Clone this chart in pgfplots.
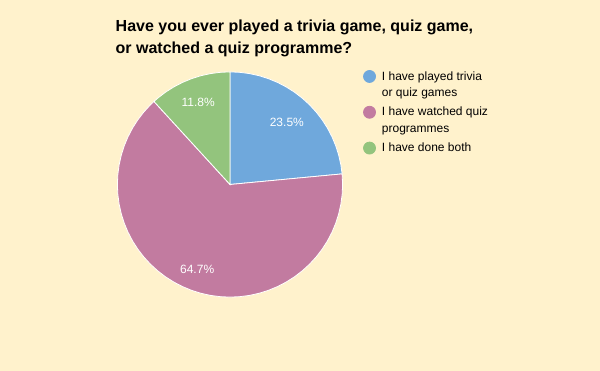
\documentclass[border=0pt]{standalone}
\usepackage{pgfplots}
\pgfplotsset{compat=1.18}
\usepgfplotslibrary{polar}
\usepackage{fontspec}
\setmainfont{Liberation Sans}
\definecolor{bgcol}{HTML}{FFF2CC}
\definecolor{sblue}{HTML}{6FA8DC}
\definecolor{spurple}{HTML}{C27BA0}
\definecolor{sgreen}{HTML}{93C47D}
\begin{document}
\begin{tikzpicture}[x=1pt,y=1pt]
\fill[bgcol] (0,0) rectangle (600,371);
\node[anchor=base west, align=left, font=\bfseries\fontsize{16}{21.5}\selectfont, inner sep=0pt] at (115.5,317.8)
  {Have you ever played a trivia game, quiz game,\\or watched a quiz programme?};
\begin{polaraxis}[
  at={(230pt,186.5pt)}, anchor=center,
  width=225.2pt, height=225.2pt, scale only axis,
  hide axis, ymin=0, ymax=1, clip=false,
  legend cell align=left,
  legend style={at={(axis description cs:1.077,1.021)}, anchor=north west,
    draw=none, fill=none, font=\fontsize{12}{16.6}\selectfont,
    cells={align=left}, row sep=5pt},
]
\addplot[fill=sblue, draw=white, line width=0.8pt,
  legend image code/.code={\fill[sblue] (0pt,8.3pt) circle (6pt); \path (10pt,-14.3pt) (10pt,14.3pt);}] coordinates {
 (0,0) (90,1) (85,1) (80,1) (75,1) (70,1) (65,1) (60,1) (55,1) (50,1) (45,1)
 (40,1) (35,1) (30,1) (25,1) (20,1) (15,1) (10,1) (5.4,1)
} -- cycle;
\addlegendentry{I have played trivia\\or quiz games}
\addplot[fill=spurple, draw=white, line width=0.8pt,
  legend image code/.code={\fill[spurple] (0pt,8.3pt) circle (6pt); \path (10pt,-14.3pt) (10pt,14.3pt);}] coordinates {
 (0,0) (5.4,1) (0,1) (-5,1) (-10,1) (-15,1) (-20,1) (-25,1) (-30,1) (-35,1)
 (-40,1) (-45,1) (-50,1) (-55,1) (-60,1) (-65,1) (-70,1) (-75,1) (-80,1)
 (-85,1) (-90,1) (-95,1) (-100,1) (-105,1) (-110,1) (-115,1) (-120,1)
 (-125,1) (-130,1) (-135,1) (-140,1) (-145,1) (-150,1) (-155,1) (-160,1)
 (-165,1) (-170,1) (-175,1) (-180,1) (-185,1) (-190,1) (-195,1) (-200,1)
 (-205,1) (-210,1) (-215,1) (-220,1) (-225,1) (-227.52,1)
} -- cycle;
\addlegendentry{I have watched quiz\\programmes}
\addplot[fill=sgreen, draw=white, line width=0.8pt,
  legend image code/.code={\fill[sgreen] (0pt,0pt) circle (6pt); \path (10pt,0pt);}] coordinates {
 (0,0) (-227.52,1) (-230,1) (-235,1) (-240,1) (-245,1) (-250,1) (-255,1)
 (-260,1) (-265,1) (-270,1)
} -- cycle;
\addlegendentry{I have done both}
\node[white, font=\fontsize{12}{14}\selectfont] at (axis cs:47.7,0.75) {23.5\%};
\node[white, font=\fontsize{12}{14}\selectfont] at (axis cs:248.9,0.81) {64.7\%};
\node[white, font=\fontsize{12}{14}\selectfont] at (axis cs:111.2,0.78) {11.8\%};
\end{polaraxis}
\end{tikzpicture}
\end{document}
